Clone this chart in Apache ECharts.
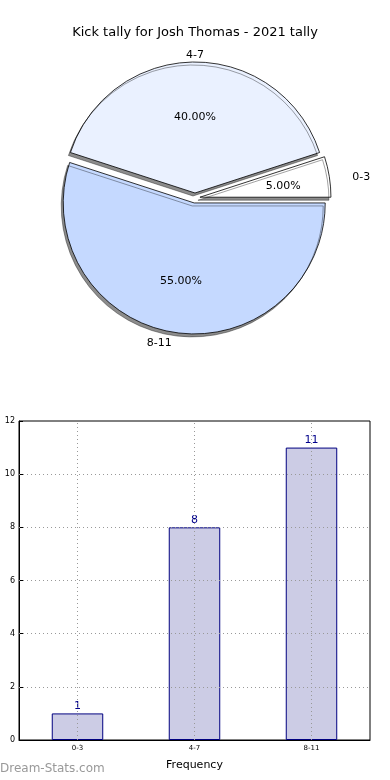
<!DOCTYPE html>
<html>
<head>
<meta charset="utf-8">
<script src="https://cdn.jsdelivr.net/npm/echarts@6/dist/echarts.min.js"></script>
<style>html,body{margin:0;padding:0;background:#fff}#c{width:390px;height:780px}</style>
</head>
<body>
<div id="c"></div>
<script>
var categories = ['0-3', '4-7', '8-11'];
var counts = [1, 8, 11];
var pieColors = ['#ffffff', '#eaf1ff', '#c5d9ff'];
var yTicks = [0, 2, 4, 6, 8, 10, 12];
var titleText = 'Kick tally for Josh Thomas - 2021 tally';
var nameLabelShift = [[16, 3], [0, 9], [-12, -5]];
var pctLabelShift = [[0, 2], [0, 8], [0, -5]];

var FONT = 'DejaVu Sans';
var C = [195, 198];
var R = 131;

function pieData(extra) {
  return categories.map(function (c, i) {
    var d = { name: c, value: counts[i], selected: true };
    if (extra) extra(d, i);
    return d;
  });
}
function shifter(arr) {
  return function (p) { var s = arr[p.dataIndex] || [0, 0]; return { dx: s[0], dy: s[1] }; };
}

var chart = echarts.init(document.getElementById('c'), null, { renderer: 'canvas' });
chart.setOption({
  animation: false,
  backgroundColor: '#fff',
  textStyle: { fontFamily: FONT },
  title: {
    text: titleText, left: 'center', top: 21,
    textStyle: { fontFamily: FONT, fontSize: 13, fontWeight: 'normal', color: '#000' }
  },
  graphic: [{
    type: 'text', left: 0, top: 763,
    style: { text: 'Dream-Stats.com', fontFamily: FONT, fontSize: 12, fill: '#999' }
  }],
  grid: { left: 19, right: 20, top: 421, bottom: 40, containLabel: false, outerBoundsMode: 'none',
    show: true, borderColor: '#000', borderWidth: 1, backgroundColor: 'transparent' },
  xAxis: {
    type: 'category', data: categories,
    name: 'Frequency', nameLocation: 'middle', nameGap: 20,
    nameTextStyle: { fontFamily: FONT, fontSize: 11, color: '#000' },
    axisLine: { show: true, lineStyle: { color: '#000' } },
    axisTick: { show: true, alignWithLabel: true, inside: true, length: 4, lineStyle: { color: '#000' } },
    axisLabel: { fontFamily: FONT, fontSize: 7, color: '#000', margin: 5 },
    splitLine: { show: false }
  },
  yAxis: {
    type: 'value', min: 0, max: 12, interval: 2,
    name: 'Count in tally', nameLocation: 'middle', nameGap: 21,
    nameTextStyle: { fontFamily: FONT, fontSize: 11, color: '#000' },
    axisLine: { show: true, lineStyle: { color: '#000' } },
    axisTick: { show: true, inside: true, length: 4, lineStyle: { color: '#000' } },
    axisLabel: { fontFamily: FONT, fontSize: 8, color: '#000', margin: 4 },
    splitLine: { show: false }
  },
  series: [
    {
      type: 'pie', center: C, radius: R, clockwise: false, startAngle: 0,
      selectedMode: 'multiple', selectedOffset: 5, silent: true,
      avoidLabelOverlap: false,
      label: { show: false }, labelLine: { show: false },
      itemStyle: { borderColor: '#000', borderWidth: 0.8, shadowColor: 'rgba(0,0,0,0.45)', shadowBlur: 0, shadowOffsetX: -2, shadowOffsetY: 3 },
      emphasis: { disabled: true },
      data: pieData(function (d, i) { d.itemStyle = { color: pieColors[i] }; })
    },
    {
      type: 'pie', center: C, radius: R * 1.24, clockwise: false, startAngle: 0,
      selectedMode: 'multiple', selectedOffset: 5, silent: true,
      avoidLabelOverlap: false,
      itemStyle: { color: 'rgba(0,0,0,0)', borderWidth: 0 },
      emphasis: { disabled: true },
      label: { show: true, position: 'inner', fontFamily: FONT, fontSize: 11, color: '#000',
        formatter: function (p) { return p.percent.toFixed(2) + '%'; } },
      labelLine: { show: false },
      labelLayout: shifter(pctLabelShift),
      data: pieData()
    },
    {
      type: 'pie', center: C, radius: R * 2.2, clockwise: false, startAngle: 0,
      selectedMode: 'multiple', selectedOffset: 5, silent: true,
      avoidLabelOverlap: false,
      itemStyle: { color: 'rgba(0,0,0,0)', borderWidth: 0 },
      emphasis: { disabled: true },
      label: { show: true, position: 'inner', fontFamily: FONT, fontSize: 11, color: '#000', formatter: '{b}' },
      labelLine: { show: false },
      labelLayout: shifter(nameLabelShift),
      data: pieData()
    },
    {
      type: 'bar', data: counts, barWidth: '44%',
      itemStyle: { color: '#ccccE5', borderColor: '#000080', borderWidth: 1 },
      label: { show: true, position: 'top', distance: 2, fontFamily: FONT, fontSize: 11, color: '#00008b' },
      emphasis: { disabled: true },
      markLine: {
        silent: true, symbol: ['none', 'none'], label: { show: false },
        lineStyle: { type: [1, 3], color: '#999', width: 1 },
        data: yTicks.slice(1, -1).map(function (v) { return { yAxis: v }; })
          .concat(categories.map(function (c) { return { xAxis: c }; }))
      }
    }
  ]
});
</script>
</body>
</html>
